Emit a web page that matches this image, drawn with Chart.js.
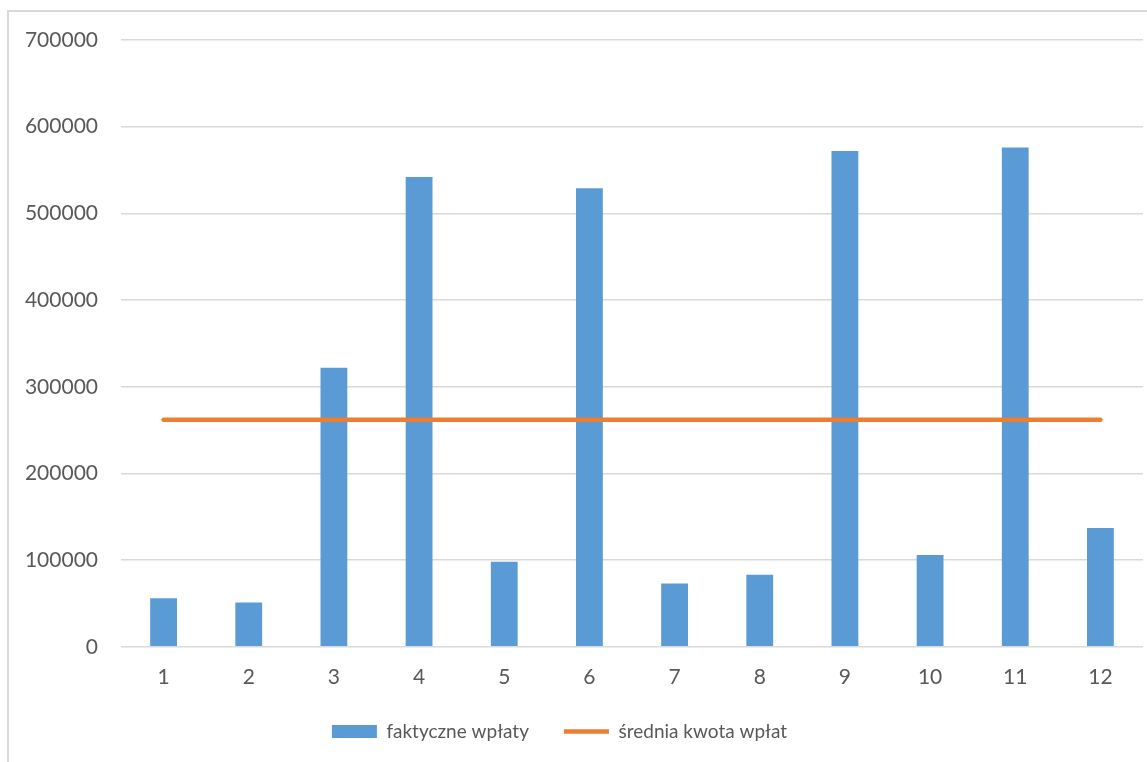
<!DOCTYPE html>
<html>
<head>
<meta charset="utf-8">
<script src="https://cdn.jsdelivr.net/npm/chart.js@4/dist/chart.umd.min.js"></script>
<style>
  html, body { margin: 0; padding: 0; background: #fff; overflow: hidden; }
  #wrap { position: absolute; left: 0; top: 0; width: 1147px; height: 772px; }
  #frame { position: absolute; left: 7px; top: 10px; width: 1200px; height: 800px;
           border-left: 2px solid #D9D9D9; border-top: 2px solid #D9D9D9; }
</style>
</head>
<body>
<div id="frame"></div>
<div id="wrap"><canvas id="chart"></canvas></div>
<script>
const miesiace = ['1', '2', '3', '4', '5', '6', '7', '8', '9', '10', '11', '12'];
const faktyczneWplaty = [56000, 51000, 322000, 542000, 98000, 529000, 73000, 83000, 572000, 106000, 576000, 137000];
const sredniaKwota = [262000, 262000, 262000, 262000, 262000, 262000, 262000, 262000, 262000, 262000, 262000, 262000];

Chart.defaults.font.family = 'Lato, "Open Sans", sans-serif';
Chart.defaults.font.size = 21;
Chart.defaults.color = '#595959';

// legend sits a bit closer to the axis (and a bit more to the left) than chart.js puts it
const legendNudge = {
  id: 'legendNudge',
  afterLayout(chart) {
    chart.legend.top -= 21;
    chart.legend.bottom -= 21;
    chart.legend.left -= 12;
    chart.legend.right -= 12;
  }
};

new Chart(document.getElementById('chart'), {
  type: 'bar',
  data: {
    labels: miesiace,
    datasets: [
      {
        label: 'faktyczne wpłaty',
        data: faktyczneWplaty,
        backgroundColor: '#5B9BD5',
        borderWidth: 0,
        barPercentage: 0.315,
        categoryPercentage: 1,
        order: 1
      },
      {
        type: 'line',
        label: 'średnia kwota wpłat',
        data: sredniaKwota,
        borderColor: '#ED7D31',
        backgroundColor: '#ED7D31',
        borderWidth: 4.5,
        borderCapStyle: 'round',
        pointRadius: 0,
        pointStyle: 'line',
        order: 0
      }
    ]
  },
  options: {
    responsive: true,
    maintainAspectRatio: false,
    animation: false,
    layout: { padding: { top: 40, right: 4, left: 0, bottom: 0 } },
    scales: {
      x: {
        grid: { display: false, drawTicks: false },
        border: { display: false },
        ticks: { padding: 18 }
      },
      y: {
        min: 0,
        max: 700000,
        ticks: { stepSize: 100000, padding: 23, callback: (v) => String(v) },
        grid: { color: '#D9D9D9', lineWidth: 1.5, drawTicks: false },
        border: { display: false },
        afterFit: (scale) => { scale.width = 121; }
      }
    },
    plugins: {
      tooltip: { enabled: false },
      legend: {
        position: 'bottom',
        labels: {
          font: { size: 19 },
          usePointStyle: true,
          pointStyleWidth: 45,
          boxHeight: 13,
          padding: 35,
          sort: (a, b) => a.datasetIndex - b.datasetIndex,
          generateLabels: (chart) => {
            const items = Chart.defaults.plugins.legend.labels.generateLabels(chart);
            items.forEach((it) => {
              if (it.datasetIndex === 0) {
                it.pointStyle = 'rect';
                it.lineWidth = 0;
              }
            });
            return items;
          }
        }
      }
    }
  },
  plugins: [legendNudge]
});
</script>
</body>
</html>
